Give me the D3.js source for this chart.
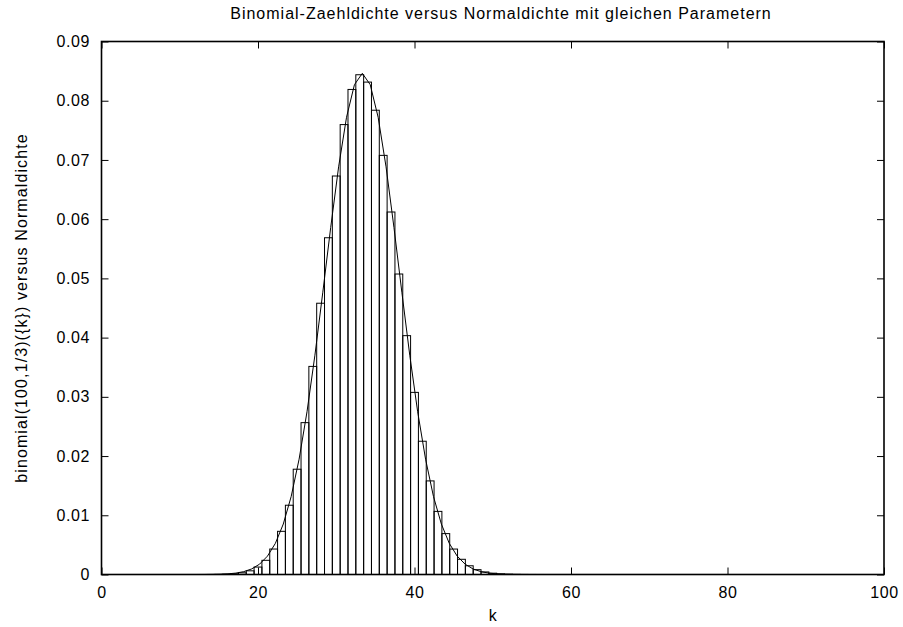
<!DOCTYPE html>
<html><head><meta charset="utf-8">
<script src="https://cdn.jsdelivr.net/npm/d3@7"></script>
<style>body{margin:0;background:#fff}svg{display:block}text{font-family:"Liberation Sans",Arial,sans-serif;font-size:16px;fill:#000}</style>
</head><body>
<script>
// Binomial(100, 1/3) probabilities, k = 14 .. 56 (others ~0)
const binomK = [14,15,16,17,18,19,20,21,22,23,24,25,26,27,28,29,30,31,32,33,34,35,36,37,38,39,40,41,42,43,44,45,46,47,48,49,50,51,52,53,54,55,56];
const binomP = [0.0000066,0.0000190,0.0000505,0.000125,0.000288,0.000621,0.001257,0.002395,0.004300,0.007291,0.011696,0.017778,0.025642,0.035139,0.045806,0.056863,0.067288,0.075970,0.081905,0.084387,0.083146,0.078395,0.070773,0.061209,0.050739,0.040331,0.030752,0.022502,0.015805,0.010659,0.006904,0.004296,0.002568,0.001475,0.000814,0.000432,0.000220,0.000108,0.0000509,0.0000231,0.0000100,0.0000042,0.0000017];
// Normal density samples (mu=33.33, sigma=4.714)
const normX = [0,12.121,13.131,14.141,15.152,16.162,17.172,18.182,19.192,20.202,21.212,22.222,23.232,24.242,25.253,26.263,27.273,28.283,29.293,30.303,31.313,32.323,33.333,34.343,35.354,36.364,37.374,38.384,39.394,40.404,41.414,42.424,43.434,44.444,45.455,46.465,47.475,48.485,49.495,50.505,51.515,52.525,53.535,54.545,100];
const normY = [0,0.0000034,0.0000087,0.0000213,0.0000498,0.000111,0.000237,0.000483,0.000940,0.001748,0.003103,0.005262,0.008521,0.013180,0.019473,0.027476,0.037032,0.047671,0.058613,0.068833,0.077203,0.082707,0.084628,0.082707,0.077203,0.068833,0.058613,0.047671,0.037032,0.027476,0.019473,0.013180,0.008521,0.005262,0.003103,0.001748,0.000940,0.000483,0.000237,0.000111,0.0000498,0.0000213,0.0000087,0.0000034,0];
const xTicks = [0,20,40,60,80,100];
const yTicks = [0,0.01,0.02,0.03,0.04,0.05,0.06,0.07,0.08,0.09];
const titleText = "Binomial-Zaehldichte versus Normaldichte mit gleichen Parametern";
const xLabel = "k";
const yLabel = "binomial(100,1/3)({k}) versus Normaldichte";

const W = 903, H = 627;
const L = 101.5, R = 884, T = 41.5, B = 574.5;
const svg = d3.select("body").append("svg").attr("width", W).attr("height", H);
const x = d3.scaleLinear().domain([0, 100]).range([L, R]);
const y = d3.scaleLinear().domain([0, 0.09]).range([B, T]);

// boxes
svg.append("g").selectAll("rect").data(binomK.map((k, i) => [k, binomP[i]])).join("rect")
  .attr("x", d => x(d[0] - 0.5)).attr("width", d => x(d[0] + 0.5) - x(d[0] - 0.5))
  .attr("y", d => y(d[1])).attr("height", d => y(0) - y(d[1]))
  .attr("fill", "none").attr("stroke", "#000").attr("stroke-width", 1);

// normal curve
svg.append("path").datum(normX.map((v, i) => [v, normY[i]]))
  .attr("d", d3.line().x(d => x(d[0])).y(d => y(d[1])))
  .attr("fill", "none").attr("stroke", "#000").attr("stroke-width", 1);

// axes (ticks inside, mirrored)
const tl = 7;
const xb = svg.append("g").attr("transform", `translate(0,${B})`).call(d3.axisBottom(x).tickValues(xTicks).tickSize(-tl).tickPadding(tl + 5).tickFormat(d3.format("d")));
const xt = svg.append("g").attr("transform", `translate(0,${T})`).call(d3.axisTop(x).tickValues(xTicks).tickSize(-tl).tickFormat(""));
const yl = svg.append("g").attr("transform", `translate(${L},0)`).call(d3.axisLeft(y).tickValues(yTicks).tickSize(-tl).tickPadding(tl + 4.5).tickFormat(d => d === 0 ? "0" : d3.format(".2f")(d)));
const yr = svg.append("g").attr("transform", `translate(${R},0)`).call(d3.axisRight(y).tickValues(yTicks).tickSize(-tl).tickFormat(""));
[xb, xt, yl, yr].forEach(g => {
  g.select(".domain").remove();
  g.selectAll("line").attr("stroke", "#000");
  g.selectAll("text").attr("font-family", "Liberation Sans, Arial, sans-serif").attr("font-size", 16).attr("fill", "#000").style("letter-spacing", "0.6px");
});
svg.append("rect").attr("x", L).attr("y", T).attr("width", R - L).attr("height", B - T)
  .attr("fill", "none").attr("stroke", "#000").attr("stroke-width", 1.6);

svg.append("text").attr("x", 501).attr("y", 19).attr("text-anchor", "middle").style("letter-spacing", "1px").text(titleText);
svg.append("text").attr("x", x(50)).attr("y", 621).attr("text-anchor", "middle").text(xLabel);
svg.append("text").attr("transform", `translate(27,${(T + B) / 2}) rotate(-90)`).attr("text-anchor", "middle").style("letter-spacing", "1.1px").text(yLabel);
</script>
</body></html>
